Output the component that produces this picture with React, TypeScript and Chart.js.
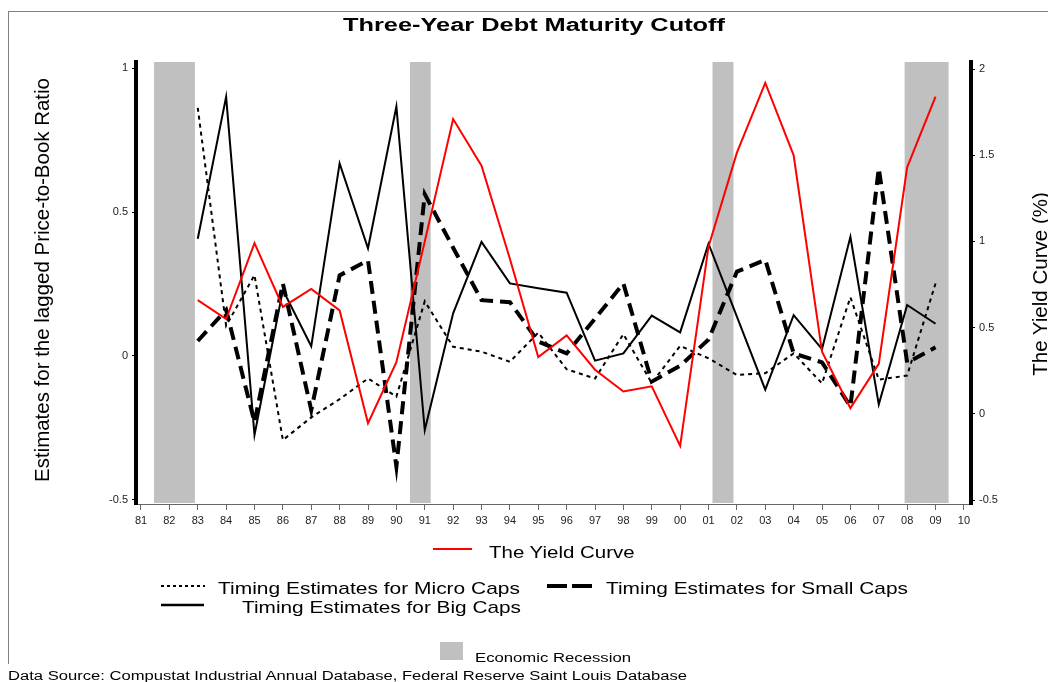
import React, { useEffect, useRef } from 'react';
import { Chart, registerables } from 'chart.js';

Chart.register(...registerables);

// ---------- data ----------
const years = [83, 84, 85, 86, 87, 88, 89, 90, 91, 92, 93, 94, 95, 96, 97, 98, 99, 100, 101, 102, 103, 104, 105, 106, 107, 108, 109];

const yieldCurve = [0.66, 0.55, 0.99, 0.62, 0.725, 0.6, -0.054, 0.3, 1.0, 1.71, 1.44, 0.9, 0.33, 0.455, 0.256, 0.13, 0.16, -0.186, 0.97, 1.515, 1.92, 1.5, 0.36, 0.033, 0.29, 1.43, 1.84];

const microCaps = [0.862, 0.105, 0.281, -0.292, -0.213, -0.15, -0.078, -0.141, 0.19, 0.032, 0.015, -0.02, 0.081, -0.046, -0.078, 0.076, -0.094, 0.035, -0.008, -0.066, -0.06, 0.009, -0.095, 0.204, -0.082, -0.068, 0.252];

const smallCaps = [0.052, 0.16, -0.23, 0.252, -0.188, 0.28, 0.332, -0.384, 0.562, 0.376, 0.194, 0.187, 0.05, 0.009, 0.13, 0.252, -0.089, -0.034, 0.057, 0.293, 0.334, 0.009, -0.022, -0.175, 0.652, -0.023, 0.03];

const bigCaps = [0.407, 0.9, -0.274, 0.23, 0.034, 0.669, 0.374, 0.866, -0.257, 0.148, 0.396, 0.252, 0.235, 0.22, -0.016, 0.009, 0.14, 0.082, 0.39, 0.137, -0.117, 0.142, 0.024, 0.414, -0.168, 0.177, 0.112];

const recessionStart = [81.46, 90.48, 101.14, 107.91];
const recessionEnd = [82.9, 91.21, 101.88, 109.46];

const xTickLabels = ['81', '82', '83', '84', '85', '86', '87', '88', '89', '90', '91', '92', '93', '94', '95', '96', '97', '98', '99', '00', '01', '02', '03', '04', '05', '06', '07', '08', '09', '10'];
const leftTickValues = [-0.5, 0, 0.5, 1];
const leftTickLabels = ['-0.5', '0', '0.5', '1'];
const rightTickValues = [-0.5, 0, 0.5, 1, 1.5, 2];
const rightTickLabels = ['-0.5', '0', '0.5', '1', '1.5', '2'];

// ---------- helpers ----------
const FONT = '"Liberation Sans", Arial, Helvetica, sans-serif';

let measureCtx: CanvasRenderingContext2D | null = null;
function fitScale(text: string, font: string, target: number): number {
  if (!measureCtx) measureCtx = document.createElement('canvas').getContext('2d');
  if (!measureCtx) return 1;
  measureCtx.font = font;
  const w = measureCtx.measureText(text).width;
  return w > 0 ? target / w : 1;
}

function HText(props: { text: string; left: number; cy: number; size: number; width: number; bold?: boolean }) {
  const { text, left, cy, size, width, bold } = props;
  const weight = bold ? 'bold' : 'normal';
  const s = fitScale(text, `${weight} ${size}px ${FONT}`, width);
  return (
    <div
      style={{
        position: 'absolute',
        left,
        top: cy - size / 2,
        fontFamily: FONT,
        fontSize: size,
        fontWeight: weight as any,
        lineHeight: `${size}px`,
        whiteSpace: 'nowrap',
        color: '#000',
        transform: `scaleX(${s})`,
        transformOrigin: '0 50%',
      }}
    >
      {text}
    </div>
  );
}

function VText(props: { text: string; cx: number; cy: number; size: number; length: number }) {
  const { text, cx, cy, size, length } = props;
  const s = fitScale(text, `normal ${size}px ${FONT}`, length);
  return (
    <div
      style={{
        position: 'absolute',
        left: cx,
        top: cy,
        fontFamily: FONT,
        fontSize: size,
        lineHeight: `${size}px`,
        whiteSpace: 'nowrap',
        color: '#000',
        transform: `translate(-50%, -50%) rotate(-90deg) scale(${s}, 1)`,
      }}
    >
      {text}
    </div>
  );
}

const recessionPlugin = {
  id: 'recessionBands',
  beforeDatasetsDraw(chart: any) {
    const { ctx, chartArea, scales } = chart;
    const x = scales.x;
    ctx.save();
    ctx.fillStyle = '#c0c0c0';
    recessionStart.forEach((s, i) => {
      const x0 = x.getPixelForValue(s);
      const x1 = x.getPixelForValue(recessionEnd[i]);
      ctx.fillRect(x0, chartArea.top, x1 - x0, chartArea.bottom - chartArea.top - 1);
    });
    ctx.restore();
  },
};

export default function App() {
  const canvasRef = useRef<HTMLCanvasElement | null>(null);

  useEffect(() => {
    if (!canvasRef.current) return;
    const pts = (arr: number[]) => years.map((yr, i) => ({ x: yr, y: arr[i] }));
    const tickFont = { family: FONT, size: 11 };
    const chart = new Chart(canvasRef.current, {
      type: 'line',
      data: {
        datasets: [
          {
            label: 'The Yield Curve',
            data: pts(yieldCurve),
            yAxisID: 'y1',
            borderColor: '#ff0000',
            borderWidth: 2,
            pointRadius: 0,
            tension: 0,
          },
          {
            label: 'Timing Estimates for Big Caps',
            data: pts(bigCaps),
            yAxisID: 'y',
            borderColor: '#000000',
            borderWidth: 2,
            pointRadius: 0,
            tension: 0,
          },
          {
            label: 'Timing Estimates for Small Caps',
            data: pts(smallCaps),
            yAxisID: 'y',
            borderColor: '#000000',
            borderWidth: 4,
            borderDash: [13, 7],
            pointRadius: 0,
            tension: 0,
          },
          {
            label: 'Timing Estimates for Micro Caps',
            data: pts(microCaps),
            yAxisID: 'y',
            borderColor: '#000000',
            borderWidth: 2,
            borderDash: [4, 4],
            pointRadius: 0,
            tension: 0,
          },
        ],
      },
      options: {
        animation: false,
        responsive: false,
        devicePixelRatio: 1,
        layout: { padding: { top: 62, left: 0, right: 0, bottom: 0 } },
        plugins: {
          legend: { display: false },
          title: { display: false },
          tooltip: { enabled: false },
        },
        scales: {
          x: {
            type: 'linear',
            min: 80.824,
            max: 110.25,
            afterBuildTicks: (s: any) => {
              s.ticks = xTickLabels.map((_, i) => ({ value: 81 + i }));
            },
            afterFit: (s: any) => {
              s.height = 178;
            },
            ticks: {
              callback: (_v: any, i: number) => xTickLabels[i],
              font: tickFont,
              color: '#222',
              maxRotation: 0,
              autoSkip: false,
              padding: 4,
            },
            grid: { drawOnChartArea: false, drawTicks: true, tickLength: 6, color: '#666' },
            border: { display: true, color: '#666', width: 1 },
          },
          y: {
            type: 'linear',
            position: 'left',
            min: -0.514,
            max: 1.021,
            afterBuildTicks: (s: any) => {
              s.ticks = leftTickValues.map((v) => ({ value: v }));
            },
            afterFit: (s: any) => {
              s.width = 136;
            },
            ticks: {
              callback: (_v: any, i: number) => leftTickLabels[i],
              font: tickFont,
              color: '#222',
              padding: 4,
            },
            grid: { drawOnChartArea: false, drawTicks: true, tickLength: 4, color: '#000' },
            border: { display: true, color: '#000', width: 4 },
          },
          y1: {
            type: 'linear',
            position: 'right',
            min: -0.523,
            max: 2.041,
            afterBuildTicks: (s: any) => {
              s.ticks = rightTickValues.map((v) => ({ value: v }));
            },
            afterFit: (s: any) => {
              s.width = 77;
            },
            ticks: {
              callback: (_v: any, i: number) => rightTickLabels[i],
              font: tickFont,
              color: '#222',
              padding: 4,
            },
            grid: { drawOnChartArea: false, drawTicks: true, tickLength: 4, color: '#000' },
            border: { display: true, color: '#000', width: 4 },
          },
        },
      } as any,
      plugins: [recessionPlugin],
    });
    return () => chart.destroy();
  }, []);

  return (
    <div
      style={{
        position: 'absolute',
        left: 0,
        top: 0,
        width: 1048,
        height: 682,
        overflow: 'hidden',
        background: '#fff',
      }}
    >
      <div
        style={{
          position: 'absolute',
          left: 8,
          top: 11,
          width: 1060,
          height: 652,
          borderTop: '1px solid #808080',
          borderLeft: '1px solid #808080',
        }}
      />
      <canvas
        ref={canvasRef}
        width={1048}
        height={682}
        style={{ position: 'absolute', left: 0, top: 0, width: 1048, height: 682 }}
      />
      <svg
        width={1048}
        height={682}
        style={{ position: 'absolute', left: 0, top: 0, pointerEvents: 'none' }}
      >
        <line x1={433} y1={549} x2={472} y2={549} stroke="#ff0000" strokeWidth={2} />
        <line x1={161} y1={586} x2={205} y2={586} stroke="#000" strokeWidth={2} strokeDasharray="3 3" />
        <line x1={547} y1={586} x2={592} y2={586} stroke="#000" strokeWidth={4} strokeDasharray="20 5" />
        <line x1={161} y1={605} x2={204} y2={605} stroke="#000" strokeWidth={2.5} />
        <rect x={440} y={642} width={23} height={18} fill="#c0c0c0" />
      </svg>
      <HText text="Three-Year Debt Maturity Cutoff" left={343} cy={25} size={18} width={382} bold />
      <HText text="The Yield Curve" left={489} cy={552} size={17} width={146} />
      <HText text="Timing Estimates for Micro Caps" left={218} cy={588} size={17} width={302} />
      <HText text="Timing Estimates for Small Caps" left={606} cy={588} size={17} width={302} />
      <HText text="Timing Estimates for Big Caps" left={242} cy={607} size={17} width={279} />
      <HText text="Economic Recession" left={475} cy={657.5} size={12} width={156} />
      <HText
        text="Data Source: Compustat Industrial Annual Database, Federal Reserve Saint Louis Database"
        left={8}
        cy={676}
        size={12.5}
        width={680}
      />
      <VText text="Estimates for the lagged Price-to-Book Ratio" cx={42} cy={280} size={20} length={404} />
      <VText text="The Yield Curve (%)" cx={1040} cy={284} size={20} length={184} />
    </div>
  );
}
